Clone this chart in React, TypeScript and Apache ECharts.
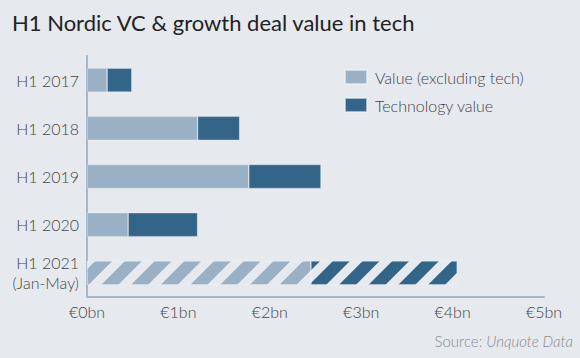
import React, { useEffect, useRef } from "react";
import * as echarts from "echarts";

const categories = ["H1 2017", "H1 2018", "H1 2019", "H1 2020", "H1 2021\n(Jan-May)"];
const valueExTech = [0.22, 1.21, 1.77, 0.45, 2.45];
const techValue = [0.27, 0.46, 0.79, 0.76, 1.6];
const xTicks = [0, 1, 2, 3, 4, 5];
const seriesNames = ["Value (excluding tech)", "Technology value"];

const BG = "#e6e9ee";
const LIGHT = "#9ab1c5";
const DARK = "#336588";
const AXIS = "#a3b8cb";
const TXT = "#444";

function hatch(color: string) {
  return {
    color: BG,
    decal: {
      symbol: "rect",
      symbolSize: 1,
      color,
      backgroundColor: BG,
      dashArrayX: [1, 0],
      dashArrayY: [12, 8.5],
      rotation: -Math.PI / 4,
    },
  };
}

export default function App() {
  const ref = useRef<HTMLDivElement>(null);
  useEffect(() => {
    if (!ref.current) return;
    const chart = echarts.init(ref.current, undefined, { renderer: "svg" });
    const last = categories.length - 1;
    const makeData = (vals: number[], color: string) =>
      vals.map((v, i) => (i === last ? { value: v, itemStyle: hatch(color) } : { value: v }));
    chart.setOption({
      animation: false,
      backgroundColor: BG,
      textStyle: { fontFamily: "Lato" },
      title: {
        text: "H1 Nordic VC & growth deal value in tech",
        left: 7,
        top: 6,
        textStyle: { fontFamily: "Lato", fontSize: 22, fontWeight: "normal", color: "#222" },
      },
      legend: {
        orient: "vertical",
        left: 344,
        top: 69,
        padding: 0,
        itemWidth: 22,
        itemHeight: 14,
        itemGap: 12,
        icon: "rect",
        data: seriesNames,
        textStyle: { fontFamily: "Lato", fontWeight: 300, fontSize: 16, color: TXT, padding: [0, 0, 0, 3] },
      },
      grid: { left: 87, right: 36, top: 56, bottom: 61, containLabel: false },
      xAxis: {
        type: "value",
        min: xTicks[0],
        max: xTicks[xTicks.length - 1],
        interval: 1,
        axisLine: { show: true, lineStyle: { color: AXIS, width: 2 } },
        axisTick: { show: false },
        splitLine: { show: false },
        axisLabel: {
          formatter: (v: number) => "€" + v + "bn",
          fontFamily: "Lato",
          fontWeight: 300,
          fontSize: 16,
          color: TXT,
          margin: 6,
        },
      },
      yAxis: {
        type: "category",
        inverse: true,
        data: categories,
        axisLine: { show: true, lineStyle: { color: AXIS, width: 2 } },
        axisTick: { show: false },
        axisLabel: {
          fontFamily: "Lato",
          fontWeight: 300,
          fontSize: 16,
          lineHeight: 20,
          color: TXT,
          margin: 8,
        },
      },
      series: [
        {
          name: seriesNames[0],
          type: "bar",
          stack: "total",
          barWidth: 24,
          itemStyle: { color: LIGHT, borderColor: "rgba(240,244,248,0.6)", borderWidth: 0.6 },
          data: makeData(valueExTech, LIGHT),
        },
        {
          name: seriesNames[1],
          type: "bar",
          stack: "total",
          barWidth: 24,
          itemStyle: { color: DARK, borderColor: "rgba(240,244,248,0.6)", borderWidth: 0.6 },
          data: makeData(techValue, DARK),
        },
      ],
      graphic: [
        {
          type: "text",
          right: 7,
          top: 333,
          style: {
            text: "Source: {i|Unquote Data}",
            fontFamily: "Lato",
            fontWeight: 300,
            fontSize: 15,
            fill: "#8a8a8a",
            rich: { i: { fontStyle: "italic", fontFamily: "Lato", fontWeight: 300, fontSize: 15, color: "#8a8a8a" } },
          },
        },
      ],
    });
    return () => chart.dispose();
  }, []);
  return <div ref={ref} style={{ width: 580, height: 358, position: "absolute", left: 0, top: 0 }} />;
}
